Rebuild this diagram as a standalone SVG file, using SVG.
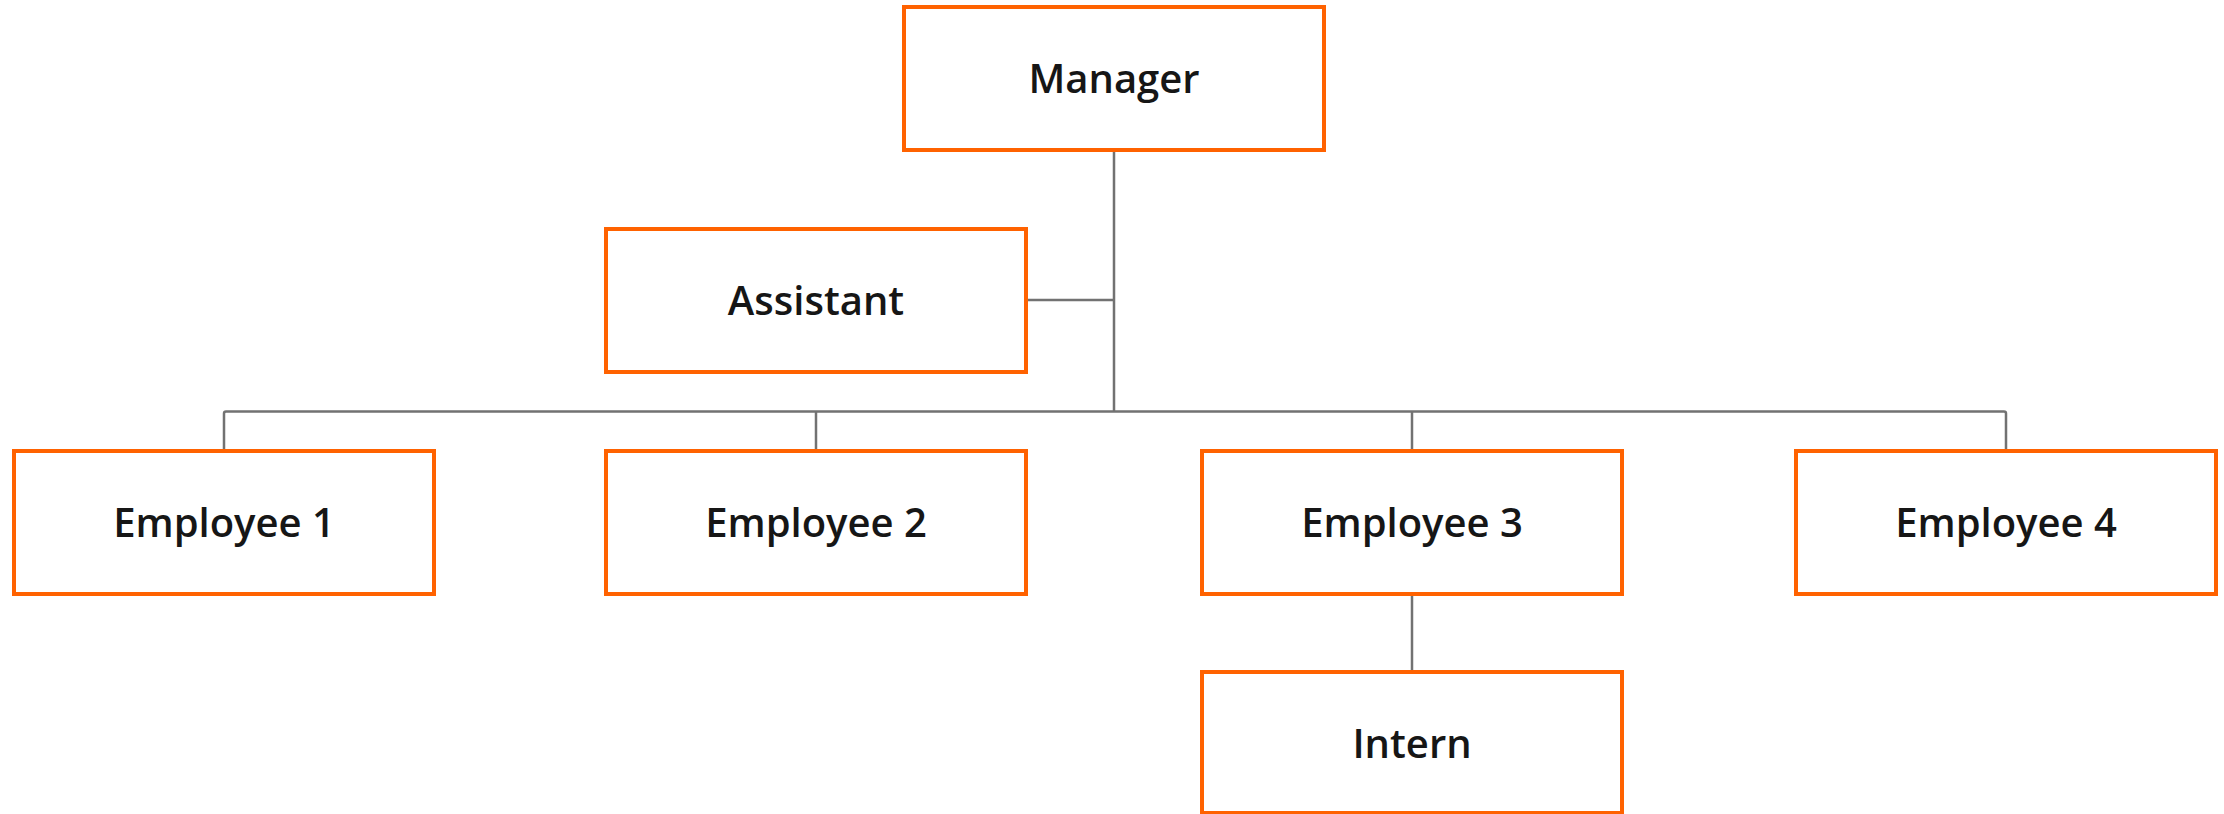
<svg xmlns="http://www.w3.org/2000/svg" width="2224" height="814" viewBox="0 0 2224 814">
<style>
.box{fill:#ffffff;stroke:#ff6200;stroke-width:4}
.lbl{font-family:"Open Sans","Liberation Sans",sans-serif;font-weight:600;font-size:40px;fill:#161616;text-anchor:middle}
.con{fill:none;stroke:#727272;stroke-width:2.5}
</style>
<rect width="2224" height="814" fill="#ffffff"/>
<g id="connectors">
<path class="con" d="M1114 150 V411.5" stroke-width="3"/>
<path class="con" d="M1026 300 H1114"/>
<path class="con" d="M224 451 V413.5 Q224 411.5 226 411.5 H2004 Q2006 411.5 2006 413.5 V451"/>
<path class="con" d="M816 411.5 V451"/>
<path class="con" d="M1412 411.5 V451"/>
<path class="con" d="M1412 594 V672"/>
</g>
<g id="manager"><rect class="box" x="904" y="7" width="420" height="143"/><text class="lbl" x="1114" y="93">Manager</text></g>
<g id="assistant"><rect class="box" x="606" y="229" width="420" height="143"/><text class="lbl" x="816" y="315">Assistant</text></g>
<g id="employee1"><rect class="box" x="14" y="451" width="420" height="143"/><text class="lbl" x="224" y="537">Employee 1</text></g>
<g id="employee2"><rect class="box" x="606" y="451" width="420" height="143"/><text class="lbl" x="816" y="537">Employee 2</text></g>
<g id="employee3"><rect class="box" x="1202" y="451" width="420" height="143"/><text class="lbl" x="1412" y="537">Employee 3</text></g>
<g id="employee4"><rect class="box" x="1796" y="451" width="420" height="143"/><text class="lbl" x="2006" y="537">Employee 4</text></g>
<g id="intern"><rect class="box" x="1202" y="672" width="420" height="141"/><text class="lbl" x="1412" y="758">Intern</text></g>
</svg>
